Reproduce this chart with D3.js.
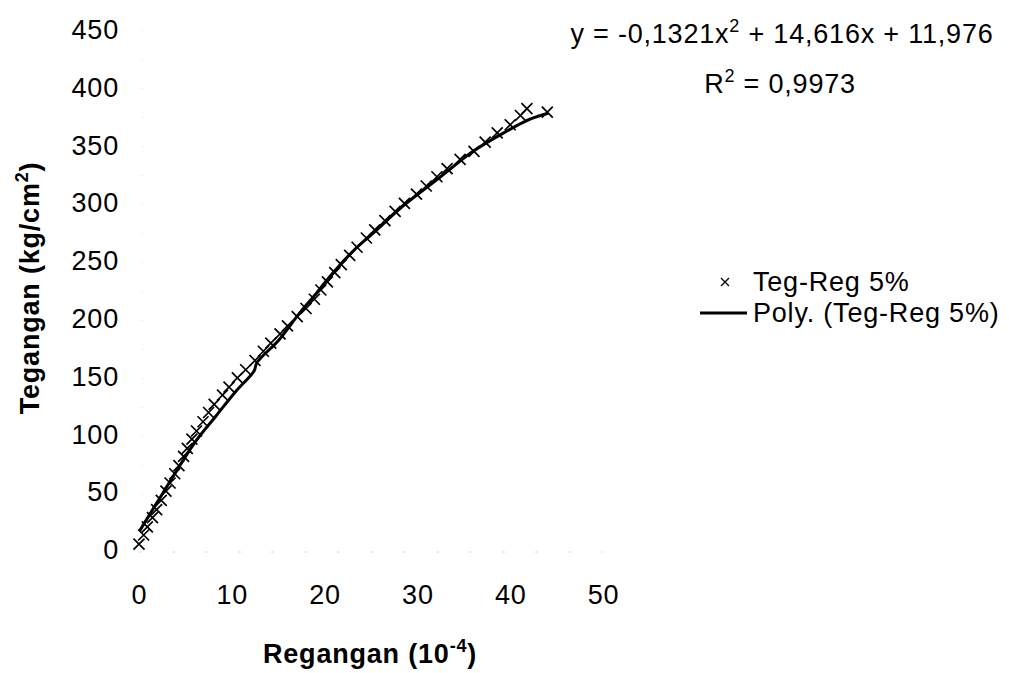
<!DOCTYPE html>
<html>
<head>
<meta charset="utf-8">
<script src="https://cdn.jsdelivr.net/npm/d3@7"></script>
<style>
  body { margin: 0; background: #fff; }
  text { font-family: "Liberation Sans", Arial, sans-serif; fill: #000; letter-spacing: 0.8px; }
</style>
</head>
<body>
<div id="main"></div>
<script>
var width = 1009;
var height = 673;

// Teg-Reg 5% measured points (strain x 10^-4, stress kg/cm2)
var regangan = [0, 0.5, 0.9, 1.45, 1.9, 2.4, 2.9, 3.35, 3.85, 4.3,
  4.8, 5.2, 5.7, 6.2, 6.9, 7.5, 8.1, 9.0, 9.7, 10.6,
  11.5, 12.5, 13.4, 14.2, 15.2, 16.0, 17.05, 18.0, 18.9, 19.6,
  20.3, 21.1, 21.8, 22.7, 23.5, 24.5, 25.4, 26.5, 27.6, 28.6,
  29.9, 30.95, 32.1, 33.2, 34.6, 36.1, 37.3, 38.6, 40.0, 41.1,
  41.8, 44.0];
var tegangan = [5, 13, 20, 28, 35, 43, 51, 58, 66, 73,
  81, 88, 96, 103, 111, 119, 126, 134, 141, 149,
  156, 164, 172, 179, 187, 194, 202, 209, 217, 225,
  232, 240, 247, 255, 262, 270, 277, 285, 293, 300,
  308, 315, 323, 330, 338, 345, 353, 361, 368, 376,
  382, 379];

// trend line as traced on the picture
var trendX = [0.1, 2.4, 6.1, 8.3, 10.4, 12.4, 12.7, 15.1, 17.3, 19.1,
  20.5, 23.1, 25.2, 28.5, 32.5, 36.0, 39.3, 42.2, 44.1];
var trendY = [17, 47, 94, 116, 137, 155, 162, 182, 205, 222,
  236, 259, 274, 298, 323, 345, 361, 373, 378];

var xTicks = [0, 10, 20, 30, 40, 50];
var yTicks = [0, 50, 100, 150, 200, 250, 300, 350, 400, 450];

var x = d3.scaleLinear().domain([0, 50]).range([139, 603]);
var y = d3.scaleLinear().domain([0, 450]).range([550, 30]);

var svg = d3.select("#main")
  .append("svg")
  .attr("width", width)
  .attr("height", height);

// faint scanned axis remains
svg.append("line")
  .attr("x1", x(0) + 3).attr("x2", x(0) + 3)
  .attr("y1", y(450)).attr("y2", y(0) + 2)
  .attr("stroke", "#d8d8d8").attr("stroke-dasharray", "1,28");
svg.append("line")
  .attr("x1", x(0)).attr("x2", x(50))
  .attr("y1", y(0) + 2).attr("y2", y(0) + 2)
  .attr("stroke", "#d8d8d8").attr("stroke-dasharray", "3,30");

var xAxis = svg.append("g")
  .attr("transform", "translate(0," + 585 + ")")
  .call(d3.axisBottom(x).tickValues(xTicks).tickSize(0).tickPadding(0));
xAxis.select(".domain").remove();
xAxis.selectAll("text")
  .attr("font-size", "27px")
  .attr("font-family", "Liberation Sans, Arial, sans-serif")
  .attr("dy", "0.71em");

var yAxis = svg.append("g")
  .attr("transform", "translate(" + 119 + ",0)")
  .call(d3.axisLeft(y).tickValues(yTicks).tickSize(0).tickPadding(0));
yAxis.select(".domain").remove();
yAxis.selectAll("text")
  .attr("font-size", "27px")
  .attr("font-family", "Liberation Sans, Arial, sans-serif");

var pts = regangan.map(function(d, i){ return [d, tegangan[i]]; });
var trend = trendX.map(function(d, i){ return [d, trendY[i]]; });

// markers
var s = 5.5;
svg.append("g").selectAll("path")
  .data(pts)
  .enter()
  .append("path")
  .attr("d", function(d){
    var cx = x(d[0]), cy = y(d[1]);
    return "M" + (cx - s) + "," + (cy - s) + "L" + (cx + s) + "," + (cy + s) +
      "M" + (cx - s) + "," + (cy + s) + "L" + (cx + s) + "," + (cy - s);
  })
  .attr("stroke", "#000")
  .attr("stroke-width", 1.7)
  .attr("fill", "none");

// poly trend line
svg.append("path")
  .datum(trend)
  .attr("d", d3.line()
    .x(function(d){ return x(d[0]); })
    .y(function(d){ return y(d[1]); })
    .curve(d3.curveCatmullRom))
  .attr("fill", "none")
  .attr("stroke", "#000")
  .attr("stroke-width", 3);

// axis titles
var yt = svg.append("text")
  .attr("transform", "translate(39,288) rotate(-90)")
  .attr("text-anchor", "middle")
  .attr("font-size", "27px")
  .attr("font-weight", "bold");
yt.append("tspan").text("Tegangan (kg/cm");
yt.append("tspan").attr("dy", -11).attr("font-size", "18px").text("2");
yt.append("tspan").attr("dy", 11).text(")");

var xt = svg.append("text")
  .attr("x", 370).attr("y", 663)
  .attr("text-anchor", "middle")
  .attr("font-size", "27px")
  .attr("font-weight", "bold");
xt.append("tspan").text("Regangan (10");
xt.append("tspan").attr("dy", -11).attr("font-size", "18px").text("-4");
xt.append("tspan").attr("dy", 11).text(")");

// equation
var eq = svg.append("text")
  .attr("x", 782).attr("y", 43)
  .attr("text-anchor", "middle")
  .attr("font-size", "27px");
eq.append("tspan").text("y = -0,1321x");
eq.append("tspan").attr("dy", -11).attr("font-size", "18px").text("2");
eq.append("tspan").attr("dy", 11).text(" + 14,616x + 11,976");

var r2 = svg.append("text")
  .attr("x", 780).attr("y", 93)
  .attr("text-anchor", "middle")
  .attr("font-size", "27px");
r2.append("tspan").text("R");
r2.append("tspan").attr("dy", -11).attr("font-size", "18px").text("2");
r2.append("tspan").attr("dy", 11).text(" = 0,9973");

// legend
var lg = svg.append("g");
lg.append("path")
  .attr("d", "M721,278L729,286M721,286L729,278")
  .attr("stroke", "#000").attr("stroke-width", 1.3);
lg.append("text")
  .attr("x", 753).attr("y", 291)
  .attr("font-size", "27px")
  .text("Teg-Reg 5%");
lg.append("line")
  .attr("x1", 700).attr("x2", 747)
  .attr("y1", 313).attr("y2", 313)
  .attr("stroke", "#000").attr("stroke-width", 3);
lg.append("text")
  .attr("x", 753).attr("y", 322)
  .attr("font-size", "27px")
  .text("Poly. (Teg-Reg 5%)");
</script>
</body>
</html>
